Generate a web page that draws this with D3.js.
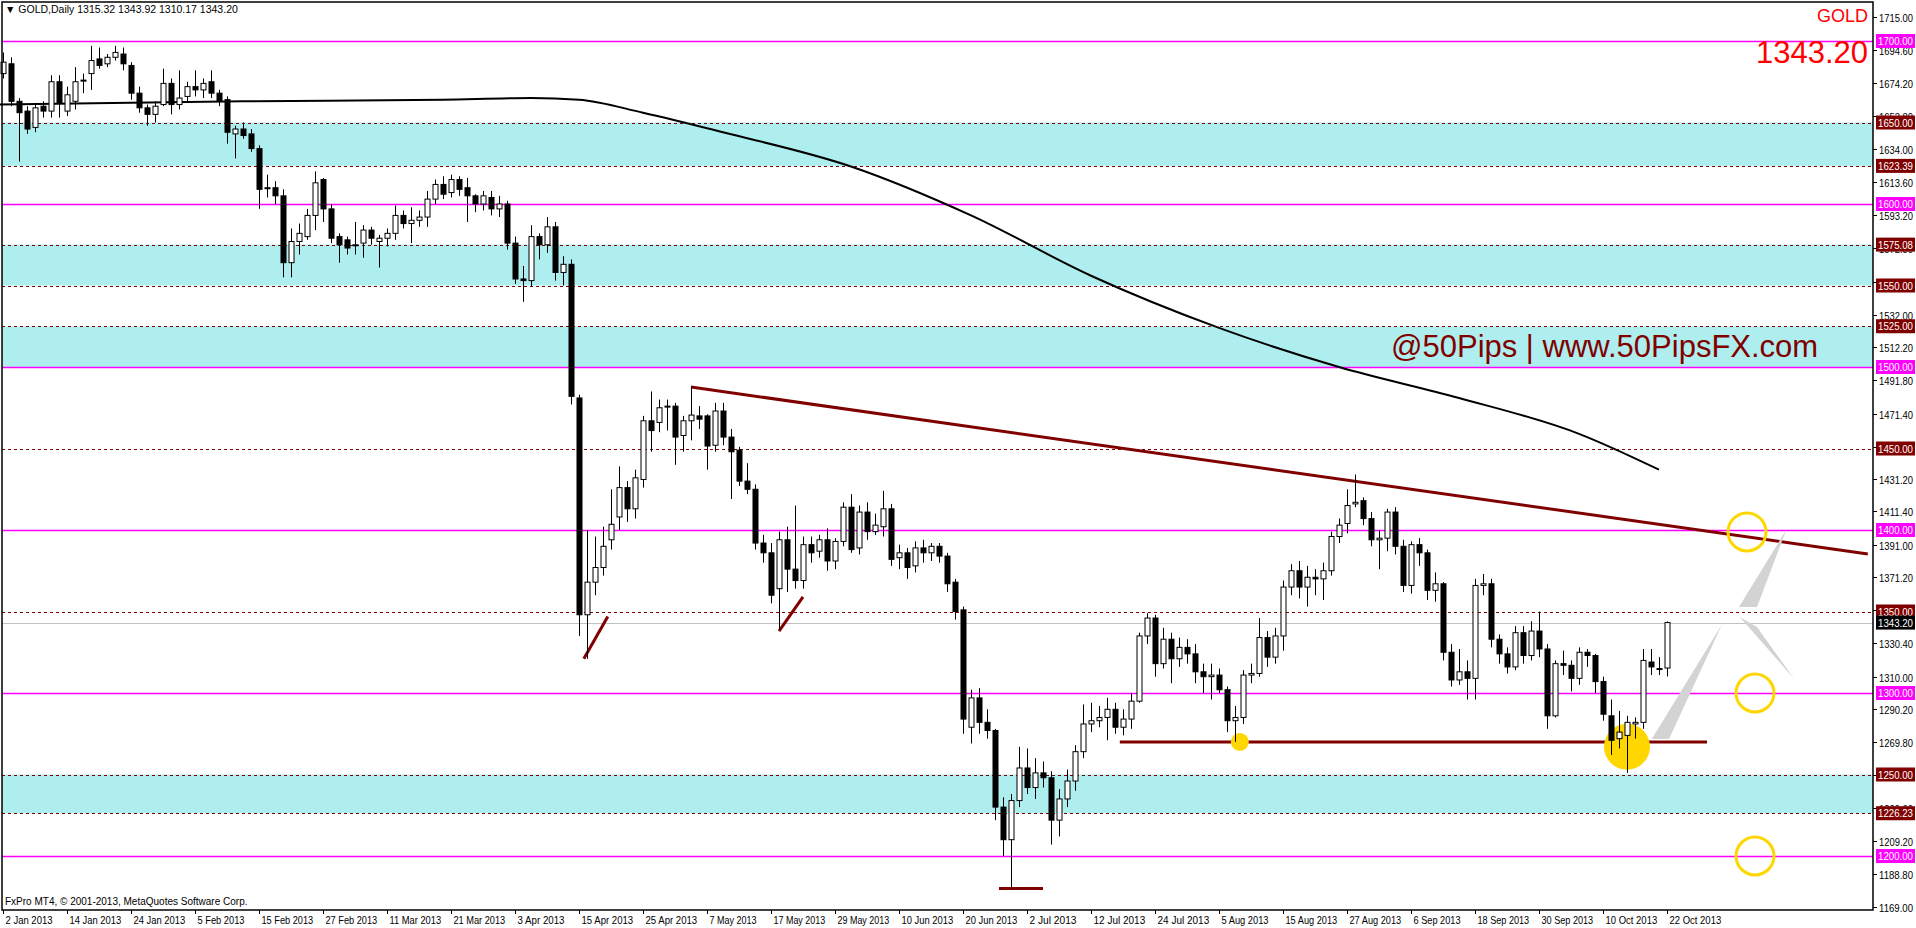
<!DOCTYPE html>
<html><head><meta charset="utf-8">
<script src="https://cdn.jsdelivr.net/npm/d3@7"></script>
<style>body{margin:0;background:#fff}svg{display:block}text{font-family:"Liberation Sans",Arial,sans-serif}</style>
</head><body><svg id="c" width="1916" height="928"></svg>
<script>
// ---- data (Daily GOLD, 2 Jan 2013 .. 22 Oct 2013) ----
const opens = [1680,1686,1663,1657,1647,1660,1657,1675,1657,1663,1676,1680,1689,1686,1690,1692,1685,1668,1659,1655,1661,1674,1661,1666,1672,1670,1675,1668,1664,1643,
1646,1643,1634,1610,1610,1605,1564,1577,1580,1593,1615,1597,1580,1578,1575,1576,1584,1577,1579,1582,1593,1588,1590,1592,1603,1612,1607,1615,1610,1605,
1600,1604,1597,1600,1576,1554,1553,1580,1575,1586,1558,1563,1481,1348,1368,1377,1394,1408,1426,1413,1431,1467,1466,1476,1476,1458,1467,1470,1470,1452,
1473,1457,1449,1430,1425,1392,1386,1364,1394,1376,1369,1391,1387,1394,1381,1393,1414,1389,1411,1399,1402,1413,1383,1386,1378,1389,1386,1390,1384,1368,
1351,1279,1297,1282,1277,1230,1210,1234,1254,1242,1251,1248,1222,1235,1246,1264,1281,1283,1285,1290,1279,1284,1295,1335,1346,1318,1333,1321,1328,1324,
1313,1310,1311,1302,1283,1285,1311,1312,1334,1322,1335,1365,1375,1365,1371,1370,1375,1396,1404,1416,1418,1407,1394,1395,1411,1390,1366,1391,1386,1363,
1367,1325,1308,1313,1309,1366,1367,1333,1324,1316,1337,1323,1338,1327,1286,1318,1317,1309,1325,1323,1307,1286,1272,1274,1281,1282,1319,1315,1315.32];
const highs = [1693,1690,1665,1660,1662,1663,1679,1679,1672,1684,1680,1697,1696,1692,1697,1696,1687,1672,1661,1663,1683,1677,1682,1675,1682,1677,1682,1670,1666,1648,
1650,1646,1636,1618,1614,1609,1585,1588,1597,1620,1616,1600,1582,1580,1589,1587,1586,1581,1585,1599,1596,1598,1596,1608,1615,1617,1618,1617,1616,1606,
1608,1608,1605,1602,1580,1562,1587,1582,1592,1589,1568,1566,1483,1400,1396,1402,1425,1439,1430,1437,1470,1485,1480,1480,1478,1470,1488,1476,1471,1478,
1478,1462,1451,1441,1428,1397,1392,1399,1402,1415,1396,1396,1397,1401,1395,1417,1422,1415,1417,1410,1424,1416,1391,1389,1393,1394,1392,1392,1386,1370,
1353,1302,1303,1290,1278,1236,1238,1267,1266,1260,1258,1252,1241,1253,1268,1293,1294,1292,1297,1294,1290,1300,1337,1349,1348,1340,1337,1334,1333,1330,
1318,1318,1315,1304,1292,1314,1318,1346,1338,1340,1369,1379,1381,1378,1376,1380,1399,1407,1425,1434,1420,1411,1400,1413,1414,1394,1393,1395,1388,1374,
1368,1330,1327,1320,1370,1373,1370,1336,1328,1341,1341,1344,1350,1330,1320,1326,1320,1328,1327,1324,1310,1296,1289,1286,1285,1327,1327,1322,1343.92];
const lows = [1677,1660,1626,1643,1644,1653,1653,1653,1654,1658,1668,1670,1683,1684,1688,1682,1664,1656,1648,1650,1660,1655,1658,1662,1666,1665,1665,1660,1637,1628,
1640,1632,1597,1604,1600,1555,1555,1569,1578,1584,1589,1576,1564,1569,1569,1567,1575,1561,1574,1578,1585,1576,1586,1586,1600,1603,1604,1605,1589,1595,
1596,1593,1592,1572,1551,1540,1549,1566,1570,1553,1550,1477,1335,1321,1360,1372,1388,1400,1405,1407,1426,1448,1460,1461,1440,1448,1455,1462,1437,1448,
1452,1419,1427,1422,1388,1380,1355,1339,1362,1364,1364,1380,1383,1375,1376,1390,1386,1385,1394,1397,1396,1378,1376,1370,1374,1380,1381,1380,1362,1345,
1275,1269,1275,1272,1222,1200,1180,1230,1238,1235,1242,1207,1212,1230,1240,1260,1276,1279,1271,1275,1274,1278,1294,1330,1310,1315,1306,1316,1318,1306,
1300,1296,1300,1276,1270,1281,1306,1310,1316,1318,1326,1360,1358,1353,1360,1357,1372,1392,1398,1414,1403,1390,1376,1387,1385,1362,1361,1378,1357,1356,
1320,1304,1305,1296,1296,1360,1328,1318,1312,1314,1318,1320,1322,1278,1285,1311,1301,1305,1316,1300,1283,1262,1266,1251,1272,1278,1311,1311,1310.17];
const closes = [1687,1663,1656,1646,1659,1657,1675,1662,1667,1675,1676,1688,1685,1690,1693,1686,1668,1659,1655,1660,1674,1661,1665,1672,1670,1674,1668,1663,1644,1646,
1642,1634,1609,1610,1605,1564,1577,1582,1593,1613,1597,1579,1575,1573,1575,1584,1579,1579,1582,1593,1588,1590,1592,1603,1612,1606,1615,1609,1605,1600,
1605,1597,1600,1576,1554,1553,1580,1575,1586,1558,1563,1482,1348,1368,1377,1390,1403.5,1426,1413,1432,1467,1461,1475,1476,1457,1467,1470.5,1468,1451.5,1473,
1457,1448,1430,1425,1392,1386,1360,1394,1376,1369,1391,1386,1394,1381,1393,1414,1388,1411,1399,1403,1413,1382,1386,1377,1389,1386,1390,1384,1367,1350,
1284,1297,1282,1277,1230,1210,1234,1254,1242,1251,1248,1222,1235,1246,1264,1281,1283,1285,1290,1279,1284,1295,1335,1346,1318,1333,1321,1328,1324,1313,
1310,1311,1302,1283,1285,1311,1312,1334,1322,1335,1365,1375,1365,1371,1370,1375,1396,1403,1415,1417,1407,1394,1395,1411,1390,1366,1391,1386,1363,1367,
1325,1308,1313,1309,1366,1367,1333,1324,1316,1337,1323,1338,1327,1286,1318,1317,1309,1325,1323,1307,1287,1271,1276,1282,1282,1320,1316,1315,1343.20];
// moving average (read at sample bars)
const maIdx = [-1,30,55,66,72,80,90,106,121,136,152,167,182,197,207];
const maVal = [1661,1663,1664,1665,1664,1656,1644,1623,1593,1556,1524,1500,1481,1459,1437];
// levels
const bands = [[1623.39,1650],[1550,1575.08],[1500,1525],[1226.23,1250]];
const magentaLevels = [1700,1600,1500,1400,1300,1200];
const dashedLevels = [1650,1623.39,1575.08,1550,1525,1450,1350,1250,1226.23];
const lastPrice = 1343.20;
const axisTicks = [1715.00,1694.60,1674.20,1653.80,1634.00,1613.60,1593.20,1572.80,1552.40,1532.00,1512.20,1491.80,1471.40,1451.00,1431.20,1411.40,1391.00,1371.20,1350.80,1330.40,1310.00,1290.20,1269.80,1249.40,1229.60,1209.20,1188.80,1169.00];
const dateLabels = ["2 Jan 2013","14 Jan 2013","24 Jan 2013","5 Feb 2013","15 Feb 2013","27 Feb 2013","11 Mar 2013","21 Mar 2013","3 Apr 2013","15 Apr 2013","25 Apr 2013","7 May 2013","17 May 2013","29 May 2013","10 Jun 2013","20 Jun 2013","2 Jul 2013","12 Jul 2013","24 Jul 2013","5 Aug 2013","15 Aug 2013","27 Aug 2013","6 Sep 2013","18 Sep 2013","30 Sep 2013","10 Oct 2013","22 Oct 2013"];
const dateLabelBars = [0,8,16,24,32,40,48,56,64,72,80,88,96,104,112,120,128,136,144,152,160,168,176,184,192,200,208];
// annotations (bar index, price)
const trendLine = [[86,1487.7],[233.1,1385.3]];
const supportLine = [[139.6,1270],[213,1270]];
const smallLines = [[[72.6,1321],[75.6,1347]],[[97,1338],[100,1359]],[[124.5,1180],[130,1180]]];
const openCircles = [[218,1398.8],[219,1300],[219,1200]];
const filledCircles = [[203,1267,23],[154.6,1270,9]];
const wedges = [[[206.1,1271.8],[208.25,1271.8],[214.9,1342.3]],[[217.1,1346.6],[219.25,1340.5],[223.9,1308.6]],[[217,1352.8],[219.25,1352.8],[222.9,1400]]];

// ---- drawing ----
const L=2,R=1873,T=2,B=910;
const svg=d3.select('#c');
const x=d3.scaleLinear().domain([0,208]).range([3,1667]);
const y=d3.scaleLinear().domain([1400,1300]).range([530,693]);
const g=svg.append('g');
const hl=(p,color,dash,w)=>g.append('line').attr('x1',L).attr('x2',R).attr('y1',Math.round(y(p))+0.5).attr('y2',Math.round(y(p))+0.5).attr('stroke',color).attr('stroke-width',w||1).attr('stroke-dasharray',dash||null);
bands.forEach(b=>g.append('rect').attr('x',L).attr('width',R-L).attr('y',y(b[1])).attr('height',y(b[0])-y(b[1])).attr('fill','#AFEEEE'));
dashedLevels.forEach(p=>hl(p,'#800000','3,3'));
magentaLevels.forEach(p=>hl(p,'#FF00FF',null,1.3));
hl(lastPrice,'#C0C0C0');
g.append('path').datum(maIdx.map((d,i)=>[d,maVal[i]])).attr('fill','none').attr('stroke','#000').attr('stroke-width',2)
 .attr('d',d3.line().x(d=>x(d[0])).y(d=>y(d[1])).curve(d3.curveMonotoneX));
const ln=(pts,w)=>g.append('line').attr('x1',x(pts[0][0])).attr('y1',y(pts[0][1])).attr('x2',x(pts[1][0])).attr('y2',y(pts[1][1])).attr('stroke','#800000').attr('stroke-width',w);
ln(trendLine,3);ln(supportLine,3);smallLines.forEach(s=>ln(s,3));
wedges.forEach(w=>g.append('polygon').attr('points',w.map(p=>x(p[0])+','+y(p[1])).join(' ')).attr('fill','#D3D3D3'));
filledCircles.forEach(c=>g.append('circle').attr('cx',x(c[0])).attr('cy',y(c[1])).attr('r',c[2]).attr('fill','#FFD700'));
const cg=g.append('g');
closes.forEach((c,i)=>{
  const o=opens[i],h=highs[i],l=lows[i],cx=Math.round(x(i))+0.5;
  cg.append('line').attr('x1',cx).attr('x2',cx).attr('y1',y(h)).attr('y2',y(l)).attr('stroke','#000');
  const top=y(Math.max(o,c)),bot=y(Math.min(o,c));
  cg.append('rect').attr('x',cx-2.5).attr('width',5).attr('y',top).attr('height',Math.max(1,bot-top))
    .attr('fill',c>=o?'#fff':'#000').attr('stroke','#000').attr('stroke-width',1);
});
openCircles.forEach(c=>g.append('circle').attr('cx',x(c[0])).attr('cy',y(c[1])).attr('r',19).attr('fill','none').attr('stroke','#FFD700').attr('stroke-width',3));
svg.append('rect').attr('x',L).attr('y',T).attr('width',R-L).attr('height',B-T).attr('fill','none').attr('stroke','#000').attr('stroke-width',1.5);
// right axis
const ax=svg.append('g').attr('font-size',10.5);
axisTicks.forEach(p=>{const yy=Math.round(y(p))+0.5;
  ax.append('line').attr('x1',R).attr('x2',R+4).attr('y1',yy).attr('y2',yy).attr('stroke','#000');
  ax.append('text').attr('x',R+6).attr('y',yy+4).attr('textLength',34).attr('lengthAdjust','spacingAndGlyphs').text(p.toFixed(2));});
const box=(p,bg,fg)=>{const yy=y(p);ax.append('rect').attr('x',R+3).attr('y',yy-7).attr('width',39).attr('height',14).attr('fill',bg);
  ax.append('text').attr('x',R+5).attr('y',yy+4).attr('fill',fg).attr('textLength',35).attr('lengthAdjust','spacingAndGlyphs').text(p.toFixed(2));};
magentaLevels.forEach(p=>box(p,'#FF00FF','#fff'));
dashedLevels.forEach(p=>box(p,'#800000','#fff'));
box(lastPrice,'#000','#fff');
// date axis
const dx=svg.append('g').attr('font-size',10.5);
dateLabels.forEach((t,i)=>{const xx=Math.round(x(dateLabelBars[i]))+0.5;
  dx.append('line').attr('x1',xx).attr('x2',xx).attr('y1',B).attr('y2',B+4).attr('stroke','#000');
  dx.append('text').attr('x',xx+2).attr('y',B+14).attr('textLength',t.length*4.7).attr('lengthAdjust','spacingAndGlyphs').text(t);});
svg.append('text').attr('x',5).attr('y',13).attr('font-size',10.5).text('\u25BC GOLD,Daily  1315.32 1343.92 1310.17 1343.20');
svg.append('text').attr('x',1868).attr('y',22).attr('font-size',18).attr('fill','#FF0000').attr('text-anchor','end').text('GOLD');
svg.append('text').attr('x',1868).attr('y',63).attr('font-size',31).attr('fill','#FF0000').attr('text-anchor','end').text('1343.20');
svg.append('text').attr('x',1391).attr('y',357).attr('font-size',31).attr('fill','#800000').text('@50Pips | www.50PipsFX.com');
svg.append('text').attr('x',5).attr('y',905).attr('font-size',10).text('FxPro MT4, \u00A9 2001-2013, MetaQuotes Software Corp.');
</script></body></html>
